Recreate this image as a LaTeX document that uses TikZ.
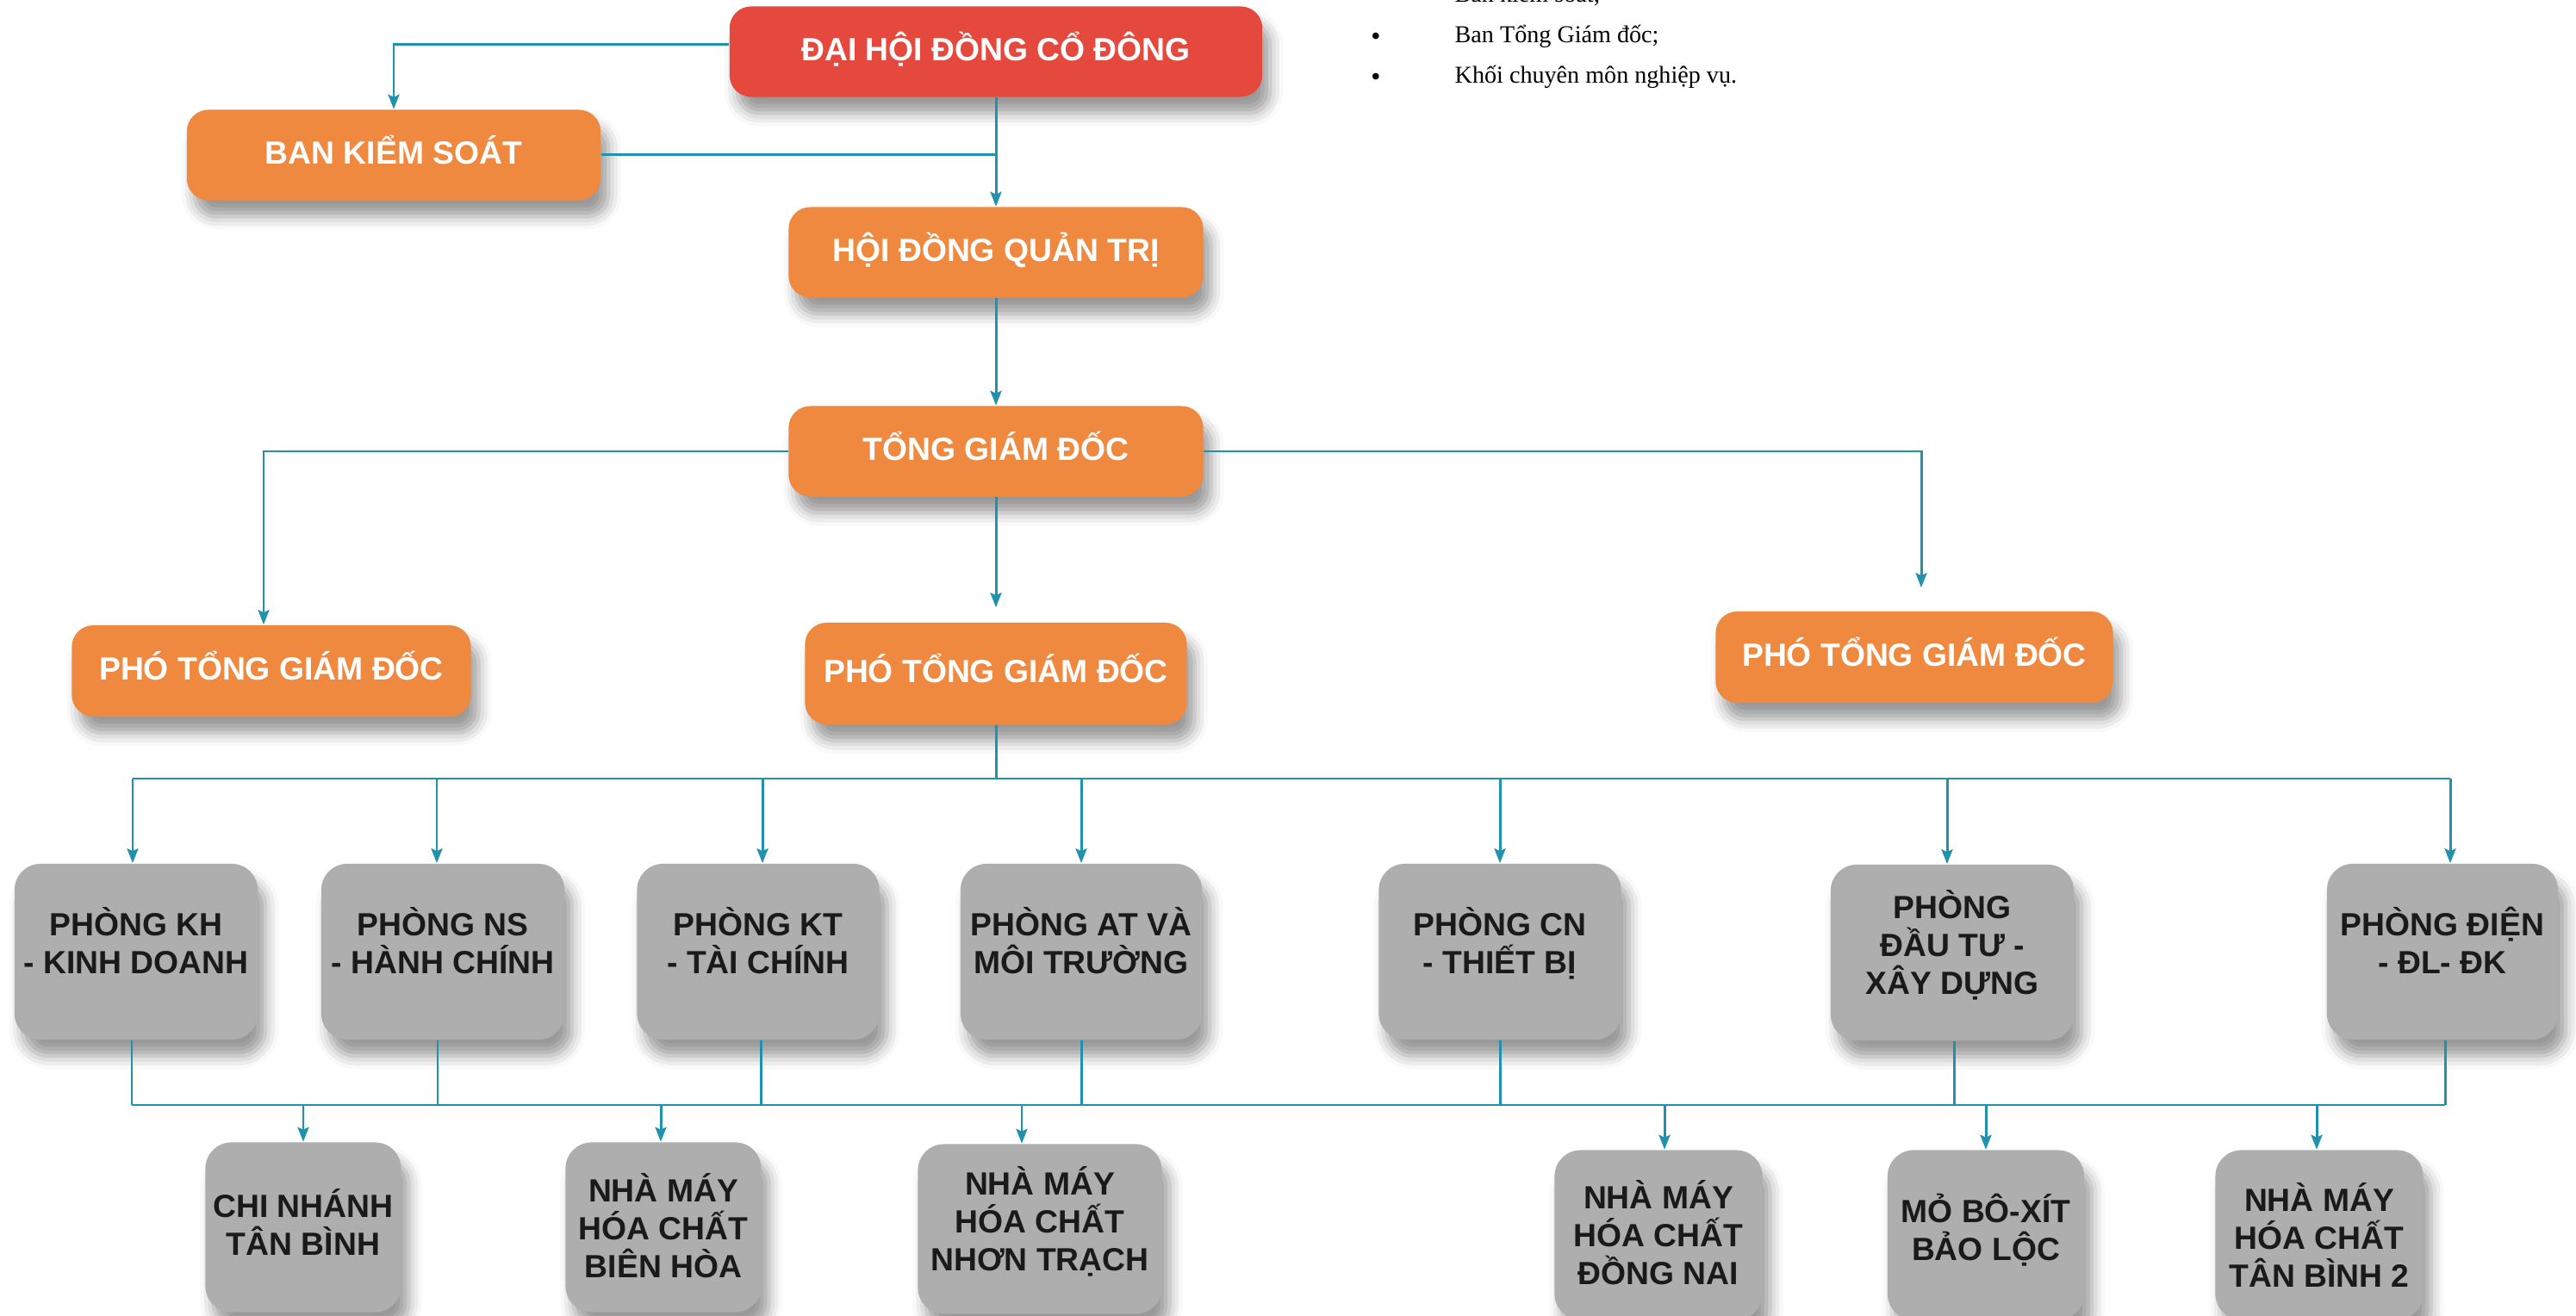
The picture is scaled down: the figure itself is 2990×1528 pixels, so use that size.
\documentclass[tikz,border=0pt]{standalone}
\usepackage{fontspec}
\setmainfont{Liberation Sans}
\newfontfamily\muctext{Liberation Serif}
\usetikzlibrary{arrows.meta,shadows.blur}
\definecolor{dohong}{HTML}{E5493D}
\definecolor{cam}{HTML}{F08940}
\definecolor{xam}{HTML}{AEAEAE}
\definecolor{duong}{HTML}{2192AE}
\definecolor{chuden}{HTML}{1A1A1A}
\begin{document}
\begin{tikzpicture}[x=0.01cm, y=-0.01cm,
		box/.style={rounded corners=0.25cm, minimum height=1.05cm, inner xsep=2pt, text depth=3.5pt, align=center, fill=cam, text=white,
			font=\fontsize{10.6}{12.5}\selectfont\bfseries,
			blur shadow={shadow xshift=0.09cm, shadow yshift=-0.19cm, shadow blur radius=0.15cm, shadow opacity=40}},
		phong/.style={box, fill=xam, text=chuden, rounded corners=0.3cm, minimum height=2.04cm, text depth=7.4pt},
		nhamay/.style={phong, minimum height=1.97cm},
		noi/.style={draw=duong, line width=0.85pt},
		ten/.style={noi, -{Stealth[length=0.17cm, width=0.13cm, inset=0.03cm]}}]
	\useasboundingbox (0,0) rectangle (2990,1528);
	\node[box, fill=dohong, minimum width=6.18cm] (dhdcd) at (1156,60) {ĐẠI HỘI ĐỒNG CỔ ĐÔNG};
	\node[box, minimum width=4.8cm] (bks) at (457,180) {BAN KIỂM SOÁT};
	\node[box, minimum width=4.81cm] (hdqt) at (1156,293) {HỘI ĐỒNG QUẢN TRỊ};
	\node[box, minimum width=4.81cm] (tgd) at (1156,524) {TỔNG GIÁM ĐỐC};
	\node[box, minimum width=4.63cm, minimum height=1.06cm] (ptgd1) at (315,779) {PHÓ TỔNG GIÁM ĐỐC};
	\node[box, minimum width=4.43cm, minimum height=1.18cm] (ptgd2) at (1156,782) {PHÓ TỔNG GIÁM ĐỐC};
	\node[box, minimum width=4.61cm, minimum height=1.06cm] (ptgd3) at (2222,763) {PHÓ TỔNG GIÁM ĐỐC};
	\node[phong, minimum width=2.82cm] (kh) at (158,1105) {PHÒNG KH\\- KINH DOANH};
	\node[phong, minimum width=2.82cm] (ns) at (514,1105) {PHÒNG NS\\- HÀNH CHÍNH};
	\node[phong, minimum width=2.81cm] (kt) at (880,1105) {PHÒNG KT\\- TÀI CHÍNH};
	\node[phong, minimum width=2.8cm] (at) at (1255,1105) {PHÒNG AT VÀ\\MÔI TRƯỜNG};
	\node[phong, minimum width=2.81cm] (cn) at (1741,1105) {PHÒNG CN\\- THIẾT BỊ};
	\node[phong, minimum width=2.82cm, text depth=6.8pt] (dt) at (2266,1106) {PHÒNG\\ĐẦU TƯ -\\XÂY DỰNG};
	\node[phong, minimum width=2.68cm] (dien) at (2835,1105) {PHÒNG ĐIỆN\\- ĐL- ĐK};
	\node[nhamay, minimum width=2.27cm, text depth=3.4pt] (cntb) at (352,1425) {CHI NHÁNH\\TÂN BÌNH};
	\node[nhamay, minimum width=2.27cm, text depth=1.2pt] (nmbh) at (770,1425) {NHÀ MÁY\\HÓA CHẤT\\BIÊN HÒA};
	\node[nhamay, minimum width=2.83cm, text depth=6.8pt] (nmnt) at (1207,1427) {NHÀ MÁY\\HÓA CHẤT\\NHƠN TRẠCH};
	\node[nhamay, minimum width=2.41cm, text depth=1.7pt] (nmdn) at (1925,1434) {NHÀ MÁY\\HÓA CHẤT\\ĐỒNG NAI};
	\node[nhamay, minimum width=2.28cm, text depth=5.2pt] (mbx) at (2305,1434) {MỎ BÔ-XÍT\\BẢO LỘC};
	\node[nhamay, minimum width=2.41cm, text depth=0pt] (nmtb) at (2692,1434) {NHÀ MÁY\\HÓA CHẤT\\TÂN BÌNH 2};
	\coordinate (bus) at (0,904);
	\coordinate (day) at (0,1283);
	\draw[ten] ([yshift=0.08cm]dhdcd.west) -| (bks.north);
	\draw[ten] (dhdcd.south) -- (hdqt.north);
	\draw[noi] (bks.east) -- (bks.east -| hdqt.north);
	\draw[ten] (hdqt.south) -- (tgd.north);
	\draw[ten] (tgd.west) -| ([xshift=-0.09cm]ptgd1.north);
	\draw[ten, shorten >=0.17cm] (tgd.south) -- (ptgd2.north);
	\draw[ten, shorten >=0.27cm] (tgd.east) -| ([xshift=0.08cm]ptgd3.north);
	\draw[noi] (ptgd2.south) -- (ptgd2.south |- bus);
	\draw[noi] ([xshift=-0.04cm]kh.north |- bus) -- ([xshift=0.09cm]dien.north |- bus);
	\draw[noi] ([xshift=-0.05cm]kh.south |- day) -- ([xshift=0.03cm]dien.south |- day);
	\foreach \p/\a/\b in {kh/-0.04/-0.05, ns/-0.07/-0.06, kt/0.05/0.03, at/0/0, cn/0/0, dt/-0.06/0.02, dien/0.09/0.03} {
		\draw[ten] ([xshift=\a cm]\p.north |- bus) -- ([xshift=\a cm]\p.north);
		\draw[noi] ([xshift=\b cm]\p.south) -- ([xshift=\b cm]\p.south |- day);
	}
	\foreach \p/\a in {cntb/0, nmbh/-0.03, nmnt/-0.21, nmdn/0.07, mbx/0, nmtb/-0.03}
		\draw[ten] ([xshift=\a cm]\p.north |- day) -- ([xshift=\a cm]\p.north);
	\foreach \t [count=\i] in {Ban kiểm soát;, Ban Tổng Giám đốc;, Khối chuyên môn nghiệp vụ.} {
		\node[anchor=base, inner sep=0pt, font=\muctext\fontsize{9}{10}\selectfont] (cham\i) at (1597,{47*\i-41}) {•};
		\node[anchor=base west, inner sep=0pt, font=\muctext\fontsize{8}{10}\selectfont] (muc\i) at (1688,{47*\i-44}) {\t};
	}
\end{tikzpicture}
\end{document}
